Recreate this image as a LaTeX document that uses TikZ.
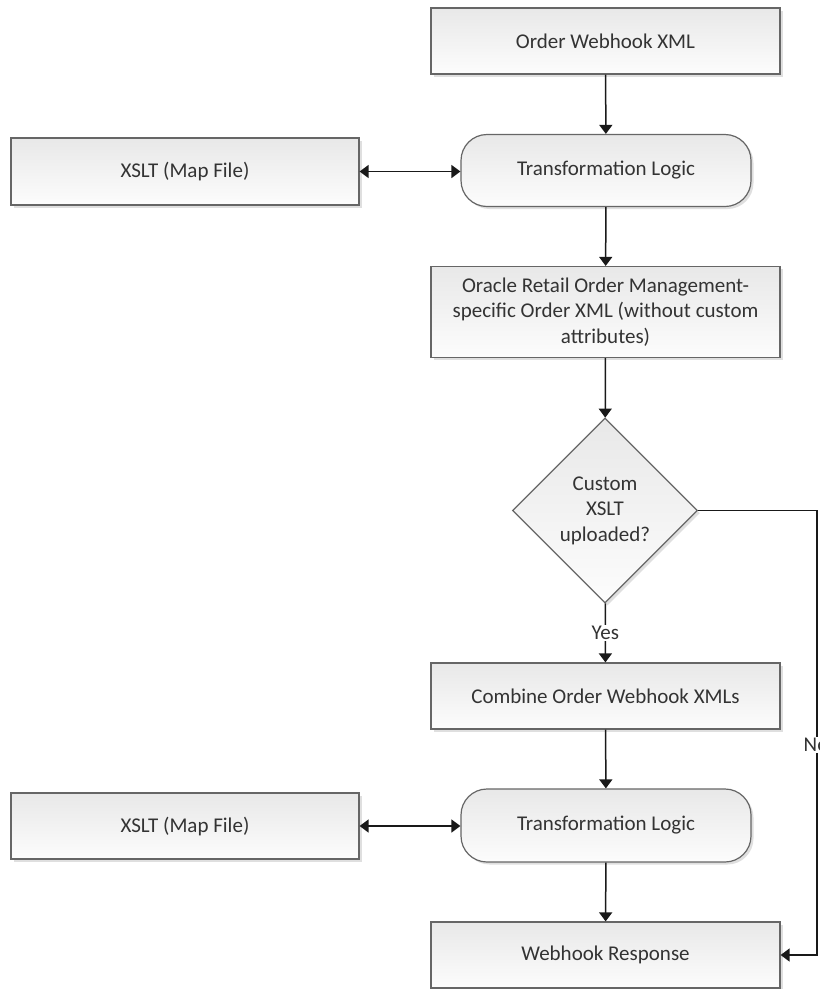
\documentclass[tikz,border=0pt]{standalone}
\usepackage{fontspec}
\setmainfont{Carlito}
\usetikzlibrary{shapes.geometric,arrows.meta,shadows}
\begin{document}
\begin{tikzpicture}[x=1pt,y=-1pt,
  every node/.style={font=\fontsize{21}{25.5}\selectfont, text=black!80},
  boxbase/.style={draw=black!60, line width=1.2pt, top color=black!9, bottom color=black!1,
    drop shadow={shadow xshift=2.5pt, shadow yshift=-2.5pt, fill=black!25, opacity=0.5},
    inner sep=0pt, align=center},
  procbox/.style={boxbase, rectangle, minimum width=349, minimum height=66},
  logicbox/.style={boxbase, rectangle, rounded corners=26pt, minimum width=290, minimum height=72},
  decbox/.style={boxbase, diamond, aspect=1, minimum width=185, minimum height=185},
  conn/.style={line width=1.5pt, black!90, -{Triangle[width=13pt,length=9pt]}},
  biconn/.style={line width=1.5pt, black!90, {Triangle[width=13pt,length=9pt]}-{Triangle[width=13pt,length=9pt]}},
  lbl/.style={fill=white, inner sep=1.5pt}
]
\useasboundingbox (0,0) rectangle (820,989);
\node[procbox] (owx) at (605.5,41) {Order Webhook XML};
\node[logicbox] (tl1) at (606,170.5) {Transformation Logic};
\node[procbox, minimum width=348, minimum height=67] (xs1) at (185,171.5) {XSLT (Map File)};
\node[procbox, minimum height=91] (orc) at (605.5,312) {Oracle Retail Order Management-\\specific Order XML (without custom\\attributes)};
\node[decbox] (dec) at (605,510.5) {Custom\\XSLT\\uploaded?};
\node[procbox] (comb) at (605.5,696) {Combine Order Webhook XMLs};
\node[logicbox, minimum height=73] (tl2) at (606,825.5) {Transformation Logic};
\node[procbox, minimum width=348] (xs2) at (185,826) {XSLT (Map File)};
\node[procbox] (resp) at (605.5,955) {Webhook Response};
\coordinate (nocorner) at (817,510.5);

\draw[conn] (owx) -- (tl1);
\draw[biconn] (xs1.east) -- (tl1.west |- xs1.east);
\draw[conn] (tl1) -- (orc);
\draw[conn] (orc) -- (dec);
\draw[conn] (dec) -- node[lbl] (yeslbl) {Yes} (comb);
\draw[conn] (comb) -- (tl2);
\draw[biconn] (xs2.east) -- (tl2.west |- xs2.east);
\draw[conn] (tl2) -- (resp);
\draw[conn] (dec.east) -- (nocorner) |- (resp.east);
\node[lbl] (nolbl) at (816,745) {No};
\end{tikzpicture}
\end{document}
